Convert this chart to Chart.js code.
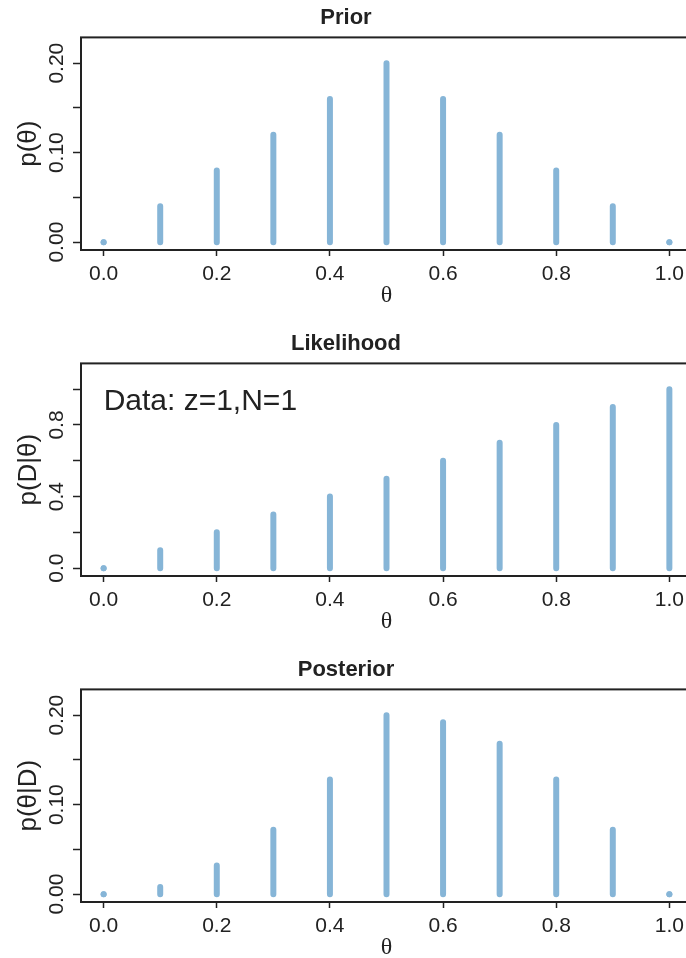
<!DOCTYPE html>
<html>
<head>
<meta charset="utf-8">
<script src="https://cdn.jsdelivr.net/npm/chart.js@4"></script>
<style>
  html, body { margin: 0; padding: 0; background: #fff; }
  body { width: 686px; height: 958px; overflow: hidden; position: relative; }
  canvas { position: absolute; left: 0; }
</style>
</head>
<body>
<canvas id="prior" width="774" height="320" style="top:0px"></canvas>
<canvas id="likelihood" width="774" height="320" style="top:326px"></canvas>
<canvas id="posterior" width="774" height="320" style="top:652px"></canvas>
<script>
// values
const theta = [0.0, 0.1, 0.2, 0.3, 0.4, 0.5, 0.6, 0.7, 0.8, 0.9, 1.0];
const priorVals = [0, 0.04, 0.08, 0.12, 0.16, 0.20, 0.16, 0.12, 0.08, 0.04, 0];
const likeVals = [0, 0.1, 0.2, 0.3, 0.4, 0.5, 0.6, 0.7, 0.8, 0.9, 1.0];
const postVals = [0, 0.008, 0.032, 0.072, 0.128, 0.200, 0.192, 0.168, 0.128, 0.072, 0];

const xTicks = [0, 0.2, 0.4, 0.6, 0.8, 1.0];
const xTickLabels = ['0.0', '0.2', '0.4', '0.6', '0.8', '1.0'];
const smallTicks = [0, 0.05, 0.10, 0.15, 0.20];
const smallTickLabels = ['0.00', '', '0.10', '', '0.20'];
const likeTicks = [0, 0.2, 0.4, 0.6, 0.8, 1.0];
const likeTickLabels = ['0.0', '', '0.4', '', '0.8', ''];

const stemColor = '#86b5d7';
const ink = '#222';
const fontFam = '"Liberation Sans", Arial, Helvetica, sans-serif';

// each stem goes from 0 up to its value, with a gap after it
function stems(values) {
    const pts = [];
    values.forEach((v, i) => {
        pts.push({ x: theta[i], y: 0, zero: v === 0 });
        pts.push({ x: theta[i], y: v });
        pts.push({ x: theta[i], y: null });
    });
    return pts;
}

const boxPlugin = {
    id: 'box',
    afterDatasetsDraw(chart) {
        const a = chart.chartArea;
        const ctx = chart.ctx;
        ctx.save();
        ctx.strokeStyle = ink;
        ctx.lineWidth = 2;
        ctx.strokeRect(a.left, a.top, a.right - a.left, a.bottom - a.top);
        const note = chart.options.plugins.note;
        if (note && note.text) {
            ctx.fillStyle = ink;
            ctx.font = '30px ' + fontFam;
            ctx.textBaseline = 'middle';
            ctx.textAlign = 'left';
            ctx.fillText(note.text, chart.scales.x.getPixelForValue(note.x), chart.scales.y.getPixelForValue(note.y));
        }
        ctx.restore();
    }
};

function makePanel(id, title, yTitle, values, yMin, yMax, yTicks, yLabels, labelPad, note) {
    const ctx = document.getElementById(id).getContext('2d');
    return new Chart(ctx, {
        type: 'line',
        data: {
            datasets: [{
                data: stems(values),
                borderColor: stemColor,
                backgroundColor: stemColor,
                borderWidth: 6,
                borderCapStyle: 'round',
                spanGaps: false,
                pointRadius: c => (c.raw && c.raw.zero ? 3 : 0),
                pointBorderWidth: 0,
                pointHoverRadius: 0
            }]
        },
        plugins: [boxPlugin],
        options: {
            responsive: false,
            animation: false,
            events: [],
            layout: { padding: { left: 0, right: 82, top: 0, bottom: 0 } },
            plugins: {
                legend: { display: false },
                tooltip: { enabled: false },
                title: {
                    display: true,
                    text: title,
                    color: ink,
                    font: { family: fontFam, size: 22, weight: 'bold' },
                    padding: { top: 5, bottom: 6 }
                },
                note: note
            },
            scales: {
                x: {
                    type: 'linear',
                    min: -0.04,
                    max: 1.04,
                    afterBuildTicks: s => { s.ticks = xTicks.map(v => ({ value: v })); },
                    afterFit: s => { s.height = 70; },
                    ticks: {
                        callback: (v, i) => xTickLabels[i],
                        color: ink,
                        font: { family: fontFam, size: 21 },
                        padding: 6,
                        maxRotation: 0
                    },
                    grid: { drawOnChartArea: false, tickLength: 6, tickWidth: 1.5, tickColor: ink },
                    border: { display: false },
                    title: {
                        display: true,
                        text: 'θ',
                        color: ink,
                        font: { family: '"Liberation Serif", "DejaVu Serif", serif', size: 24 },
                        padding: { top: 0, bottom: 10 }
                    }
                },
                y: {
                    type: 'linear',
                    min: yMin,
                    max: yMax,
                    afterBuildTicks: s => { s.ticks = yTicks.map(v => ({ value: v })); },
                    afterFit: s => { s.width = 81; },
                    ticks: {
                        callback: (v, i) => yLabels[i],
                        color: ink,
                        font: { family: fontFam, size: 21 },
                        minRotation: 90,
                        maxRotation: 90,
                        crossAlign: 'center',
                        padding: labelPad
                    },
                    grid: { drawOnChartArea: false, tickLength: 8, tickWidth: 1.5, tickColor: ink },
                    border: { display: false },
                    title: {
                        display: true,
                        text: yTitle,
                        color: ink,
                        font: { family: fontFam, size: 26 },
                        padding: { top: 13, bottom: 0 }
                    }
                }
            }
        }
    });
}

makePanel('prior', 'Prior', 'p(θ)', priorVals, -0.0088, 0.2288, smallTicks, smallTickLabels, -4.4, null);
makePanel('likelihood', 'Likelihood', 'p(D|θ)', likeVals, -0.044, 1.144, likeTicks, likeTickLabels, 1.4,
    { text: 'Data: z=1,N=1', x: 0, y: 0.93 });
makePanel('posterior', 'Posterior', 'p(θ|D)', postVals, -0.0088, 0.2288, smallTicks, smallTickLabels, -4.4, null);
</script>
</body>
</html>
